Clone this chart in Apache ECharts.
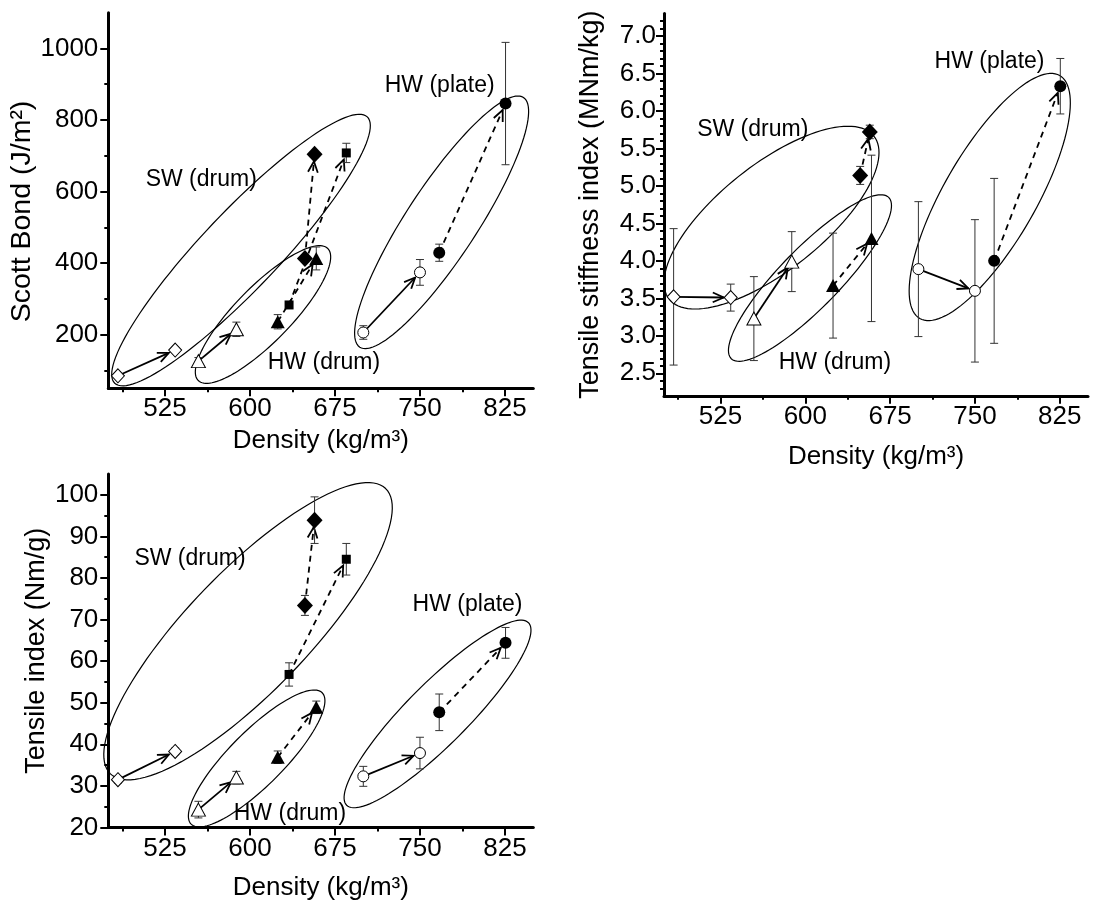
<!DOCTYPE html>
<html><head><meta charset="utf-8">
<script src="https://cdn.jsdelivr.net/npm/echarts@6/dist/echarts.min.js"></script>
<style>html,body{margin:0;padding:0;background:#fff}#c{width:1094px;height:905px}</style>
</head><body><div id="c"></div>
<script>
const FONT = '"Liberation Sans", Arial, Helvetica, sans-serif';

// ---- shared density (x) values, kg/m3: [before, after] for each sample group
const densityOpenDiamond    = [483.5, 534];
const densityOpenTriangle   = [554.5, 588];
const densityFilledTriangle = [624.5, 658.5];
const densityFilledSquare   = [634.5, 685];
const densityFilledDiamond  = [648.5, 657];
const densityOpenCircle     = [700, 750];
const densityFilledCircle   = [767, 825.5];

// ---- Scott Bond (J/m2)
const scottOpenDiamond    = [85, 157];   const scottOpenDiamondErr    = [5, 5];
const scottOpenTriangle   = [126, 215];  const scottOpenTriangleErr   = [10, 20];
const scottFilledTriangle = [236, 413];  const scottFilledTriangleErr = [20, 32];
const scottFilledSquare   = [283, 708];  const scottFilledSquareErr   = [8, 27];
const scottFilledDiamond  = [413, 704];  const scottFilledDiamondErr  = [10, 8];
const scottOpenCircle     = [206, 374];  const scottOpenCircleErr     = [19, 36];
const scottFilledCircle   = [429, 846];  const scottFilledCircleErr   = [24, 171];

// ---- Tensile stiffness index (MNm/kg)
const stiffOpenDiamond    = [3.52, 3.51]; const stiffOpenDiamondErr    = [0.91, 0.18];
const stiffOpenTriangle   = [3.23, 3.99]; const stiffOpenTriangleErr   = [0.56, 0.40];
const stiffFilledTriangle = [3.67, 4.30]; const stiffFilledTriangleErr = [0.70, 1.11];
const stiffFilledSquare   = null;         const stiffFilledSquareErr   = null;
const stiffFilledDiamond  = [5.14, 5.72]; const stiffFilledDiamondErr  = [0.12, 0.09];
const stiffOpenCircle     = [3.89, 3.60]; const stiffOpenCircleErr     = [0.90, 0.95];
const stiffFilledCircle   = [4.00, 6.33]; const stiffFilledCircleErr   = [1.10, 0.37];

// ---- Tensile index (Nm/g)
const tensOpenDiamond    = [31.5, 38.3]; const tensOpenDiamondErr    = [0.8, 0.8];
const tensOpenTriangle   = [24.3, 32.0]; const tensOpenTriangleErr   = [2.0, 1.5];
const tensFilledTriangle = [36.9, 48.9]; const tensFilledTriangleErr = [1.5, 1.5];
const tensFilledSquare   = [56.8, 84.5]; const tensFilledSquareErr   = [2.8, 3.8];
const tensFilledDiamond  = [73.4, 93.9]; const tensFilledDiamondErr  = [2.4, 5.6];
const tensOpenCircle     = [32.3, 37.9]; const tensOpenCircleErr     = [2.4, 3.8];
const tensFilledCircle   = [47.7, 64.4]; const tensFilledCircleErr   = [4.4, 3.7];

// ---- tick labels
const xTickLabels = [525, 600, 675, 750, 825];
const xMinorTicks = [487.5, 562.5, 637.5, 712.5, 787.5];
const scottTickLabels = [200, 400, 600, 800, 1000];
const scottMinorTicks = [100, 300, 500, 700, 900];
const stiffTickLabels = [2.5, 3.0, 3.5, 4.0, 4.5, 5.0, 5.5, 6.0, 6.5, 7.0];
const stiffMinorTicks = [2.3, 2.4, 2.6, 2.7, 2.8, 2.9, 3.1, 3.2, 3.3, 3.4, 3.6, 3.7, 3.8, 3.9,
  4.1, 4.2, 4.3, 4.4, 4.6, 4.7, 4.8, 4.9, 5.1, 5.2, 5.3, 5.4, 5.6, 5.7, 5.8, 5.9,
  6.1, 6.2, 6.3, 6.4, 6.6, 6.7, 6.8, 6.9, 7.1, 7.2];
const tensTickLabels = [20, 30, 40, 50, 60, 70, 80, 90, 100];
const tensMinorTicks = [25, 35, 45, 55, 65, 75, 85, 95];

// ---- group annotations: ellipse = [centre x, centre y, major-axis end x, major-axis end y, minor/major ratio]
const groupNames = ['SW (drum)', 'HW (drum)', 'HW (plate)'];
const ellipsesScott = [[592.1, 436.5, 703.5, 808.8, 0.21], [611.5, 256.3, 668.6, 441, 0.3], [769.1, 514, 841.3, 863, 0.237]];
const ellipsesStiff = [[570.1, 4.577, 660.6, 5.665, 0.403], [604.1, 3.771, 673.7, 4.847, 0.264], [763.1, 4.852, 825, 6.472, 0.329]];
const ellipsesTens  = [[598.3, 67.2, 719.7, 101.5, 0.304], [605.9, 36.6, 663.7, 52.4, 0.293], [765.5, 47.3, 845.7, 69.25, 0.238]];
const labelPosScott = [[557, 632], [665.3, 120.7], [767.4, 895]];
const labelPosStiff = [[553.5, 5.757], [626.2, 2.644], [762.9, 6.655]];
const labelPosTens  = [[547.1, 84.6], [635.3, 23.3], [792, 73.5]];

// ---- marker styles per group (order matches the arrays above)
const groupDensity = [densityOpenDiamond, densityOpenTriangle, densityFilledTriangle, densityFilledSquare,
  densityFilledDiamond, densityOpenCircle, densityFilledCircle];
const markerStyles = [
  {symbol: 'diamond', size: [13, 14], open: true},
  {symbol: 'triangle', size: [14, 13], open: true},
  {symbol: 'triangle', size: [14, 13], open: false},
  {symbol: 'rect', size: 9, open: false},
  {symbol: 'diamond', size: [16, 17], open: false},
  {symbol: 'circle', size: 11, open: true},
  {symbol: 'circle', size: 12, open: false}
];

const panels = [
  {grid: {left: 108.3, top: 12.7, width: 425, height: 375.6}, yMin: 50, yMax: 1100,
   yLabels: scottTickLabels, yMinor: scottMinorTicks, yName: 'Scott Bond (J/m²)', yNameGap: 53, yNameSize: 28.5, yNamePad: [0, 22, 0, 0],
   yLabelMargin: 10, dec: 0, xNameGap: 40,
   values: [scottOpenDiamond, scottOpenTriangle, scottFilledTriangle, scottFilledSquare, scottFilledDiamond, scottOpenCircle, scottFilledCircle],
   errors: [scottOpenDiamondErr, scottOpenTriangleErr, scottFilledTriangleErr, scottFilledSquareErr, scottFilledDiamondErr, scottOpenCircleErr, scottFilledCircleErr],
   ellipses: ellipsesScott, labelPos: labelPosScott},
  {grid: {left: 664, top: 13.5, width: 424, height: 382.3}, yMin: 2.2, yMax: 7.3,
   yLabels: stiffTickLabels, yMinor: stiffMinorTicks, yName: 'Tensile stiffness index (MNm/kg)', yNameGap: 60, yNameSize: 27, yNamePad: 0,
   yLabelMargin: 8, dec: 1, xNameGap: 48,
   values: [stiffOpenDiamond, stiffOpenTriangle, stiffFilledTriangle, stiffFilledSquare, stiffFilledDiamond, stiffOpenCircle, stiffFilledCircle],
   errors: [stiffOpenDiamondErr, stiffOpenTriangleErr, stiffFilledTriangleErr, stiffFilledSquareErr, stiffFilledDiamondErr, stiffOpenCircleErr, stiffFilledCircleErr],
   ellipses: ellipsesStiff, labelPos: labelPosStiff},
  {grid: {left: 108.3, top: 474, width: 425, height: 353.5}, yMin: 20, yMax: 105,
   yLabels: tensTickLabels, yMinor: tensMinorTicks, yName: 'Tensile index (Nm/g)', yNameGap: 58, yNameSize: 27, yNamePad: 0,
   yLabelMargin: 10, dec: 0, xNameGap: 47,
   values: [tensOpenDiamond, tensOpenTriangle, tensFilledTriangle, tensFilledSquare, tensFilledDiamond, tensOpenCircle, tensFilledCircle],
   errors: [tensOpenDiamondErr, tensOpenTriangleErr, tensFilledTriangleErr, tensFilledSquareErr, tensFilledDiamondErr, tensOpenCircleErr, tensFilledCircleErr],
   ellipses: ellipsesTens, labelPos: labelPosTens}
];

const N = panels.length;
const grids = [], xAxes = [], yAxes = [], series = [];

panels.forEach((p, i) => {
  grids.push(Object.assign({containLabel: false}, p.grid));
  xAxes[i] = {
    type: 'value', gridIndex: i, min: 475, max: 850, position: 'bottom',
    axisLine: {show: true, onZero: false, lineStyle: {color: '#000', width: 3}},
    axisTick: {show: true, length: 8, customValues: xTickLabels, lineStyle: {color: '#000', width: 2}},
    axisLabel: {show: true, customValues: xTickLabels, fontSize: 26, color: '#000', fontFamily: FONT, margin: 8},
    splitLine: {show: false},
    name: 'Density (kg/m³)', nameLocation: 'middle', nameGap: p.xNameGap,
    nameTextStyle: {fontSize: 26, color: '#000', fontFamily: FONT}
  };
  xAxes[N + i] = {
    type: 'value', gridIndex: i, min: 475, max: 850, position: 'bottom',
    axisLine: {show: false, onZero: false},
    axisTick: {show: true, length: 4, customValues: xMinorTicks, lineStyle: {color: '#000', width: 2}},
    axisLabel: {show: false}, splitLine: {show: false}
  };
  yAxes[i] = {
    type: 'value', gridIndex: i, min: p.yMin, max: p.yMax, position: 'left',
    axisLine: {show: true, onZero: false, lineStyle: {color: '#000', width: 3}},
    axisTick: {show: true, length: 8, customValues: p.yLabels, lineStyle: {color: '#000', width: 2}},
    axisLabel: {show: true, customValues: p.yLabels, fontSize: 26, color: '#000', fontFamily: FONT, margin: p.yLabelMargin,
      formatter: v => Number(v).toFixed(p.dec)},
    splitLine: {show: false},
    name: p.yName, nameLocation: 'middle', nameGap: p.yNameGap, nameRotate: 90,
    nameTextStyle: {fontSize: p.yNameSize, color: '#000', fontFamily: FONT, padding: p.yNamePad}
  };
  yAxes[N + i] = {
    type: 'value', gridIndex: i, min: p.yMin, max: p.yMax, position: 'left',
    axisLine: {show: false, onZero: false},
    axisTick: {show: true, length: 4, customValues: p.yMinor, lineStyle: {color: '#000', width: 2}},
    axisLabel: {show: false}, splitLine: {show: false}
  };

  // ellipses
  series.push({
    type: 'custom', xAxisIndex: i, yAxisIndex: i, silent: true, z: 1,
    data: p.ellipses,
    renderItem: (params, api) => {
      const c = api.coord([api.value(0), api.value(1)]);
      const e = api.coord([api.value(2), api.value(3)]);
      const a = Math.hypot(e[0] - c[0], e[1] - c[1]);
      const b = a * api.value(4);
      const phi = Math.atan2(e[1] - c[1], e[0] - c[0]);
      const cp = Math.cos(phi), sp = Math.sin(phi);
      const pts = [];
      for (let k = 0; k < 120; k++) {
        const t = k / 120 * Math.PI * 2;
        const u = a * Math.cos(t), v = b * Math.sin(t);
        pts.push([c[0] + u * cp - v * sp, c[1] + u * sp + v * cp]);
      }
      return {type: 'polygon', shape: {points: pts}, style: {fill: null, stroke: '#000', lineWidth: 1.2}};
    }
  });
  // group labels
  series.push({
    type: 'custom', xAxisIndex: i, yAxisIndex: i, silent: true, z: 2,
    data: p.labelPos,
    renderItem: (params, api) => {
      const c = api.coord([api.value(0), api.value(1)]);
      return {type: 'text', style: {text: groupNames[params.dataIndex], x: c[0], y: c[1], fill: '#000',
        font: '23px ' + FONT, align: 'center', verticalAlign: 'middle'}};
    }
  });
  // arrows (solid for open markers, dashed for filled)
  const solid = [], dashed = [], errs = [];
  p.values.forEach((vals, g) => {
    if (!vals) return;
    const xs = groupDensity[g];
    const item = [xs[0], vals[0], xs[1], vals[1]];
    (markerStyles[g].open ? solid : dashed).push(item);
    vals.forEach((v, k) => errs.push([xs[k], v, p.errors[g][k]]));
  });
  const arrowRender = dash => (params, api) => {
    const p0 = api.coord([api.value(0), api.value(1)]);
    const p1 = api.coord([api.value(2), api.value(3)]);
    const dx = p1[0] - p0[0], dy = p1[1] - p0[1];
    const L = Math.hypot(dx, dy) || 1;
    const ux = dx / L, uy = dy / L;
    const gap = 7;
    const tip = [p1[0] - ux * gap, p1[1] - uy * gap];
    const head = 12, ang = 0.42, ca = Math.cos(ang), sa = Math.sin(ang);
    const bx = -ux, by = -uy;
    const h1 = [tip[0] + head * (bx * ca - by * sa), tip[1] + head * (bx * sa + by * ca)];
    const h2 = [tip[0] + head * (bx * ca + by * sa), tip[1] + head * (-bx * sa + by * ca)];
    return {type: 'group', children: [
      {type: 'line', shape: {x1: p0[0], y1: p0[1], x2: tip[0], y2: tip[1]},
        style: {stroke: '#000', lineWidth: 1.8, lineDash: dash ? [6, 5] : null}},
      {type: 'polyline', shape: {points: [h1, tip, h2]}, style: {stroke: '#000', lineWidth: 1.8, fill: null}}
    ]};
  };
  series.push({type: 'custom', xAxisIndex: i, yAxisIndex: i, silent: true, z: 3, data: solid, renderItem: arrowRender(false)});
  series.push({type: 'custom', xAxisIndex: i, yAxisIndex: i, silent: true, z: 3, data: dashed, renderItem: arrowRender(true)});
  // error bars
  series.push({
    type: 'custom', xAxisIndex: i, yAxisIndex: i, silent: true, z: 4, data: errs,
    renderItem: (params, api) => {
      const x = api.value(0), y = api.value(1), e = api.value(2);
      const t = api.coord([x, y + e]), b = api.coord([x, y - e]);
      const w = 4;
      const st = {stroke: '#333', lineWidth: 1};
      return {type: 'group', children: [
        {type: 'line', shape: {x1: t[0], y1: t[1], x2: b[0], y2: b[1]}, style: st},
        {type: 'line', shape: {x1: t[0] - w, y1: t[1], x2: t[0] + w, y2: t[1]}, style: st},
        {type: 'line', shape: {x1: b[0] - w, y1: b[1], x2: b[0] + w, y2: b[1]}, style: st}
      ]};
    }
  });
  // markers
  p.values.forEach((vals, g) => {
    if (!vals) return;
    const xs = groupDensity[g];
    const m = markerStyles[g];
    series.push({
      type: 'scatter', xAxisIndex: i, yAxisIndex: i, z: 6, silent: true,
      symbol: m.symbol, symbolSize: m.size,
      itemStyle: m.open ? {color: '#fff', borderColor: '#000', borderWidth: 1, opacity: 1}
                        : {color: '#000', borderColor: '#000', borderWidth: 0, opacity: 1},
      data: vals.map((v, k) => [xs[k], v])
    });
  });
});

const chart = echarts.init(document.getElementById('c'));
chart.setOption({
  animation: false, backgroundColor: '#fff',
  grid: grids, xAxis: xAxes, yAxis: yAxes, series: series
});
</script>
</body></html>
